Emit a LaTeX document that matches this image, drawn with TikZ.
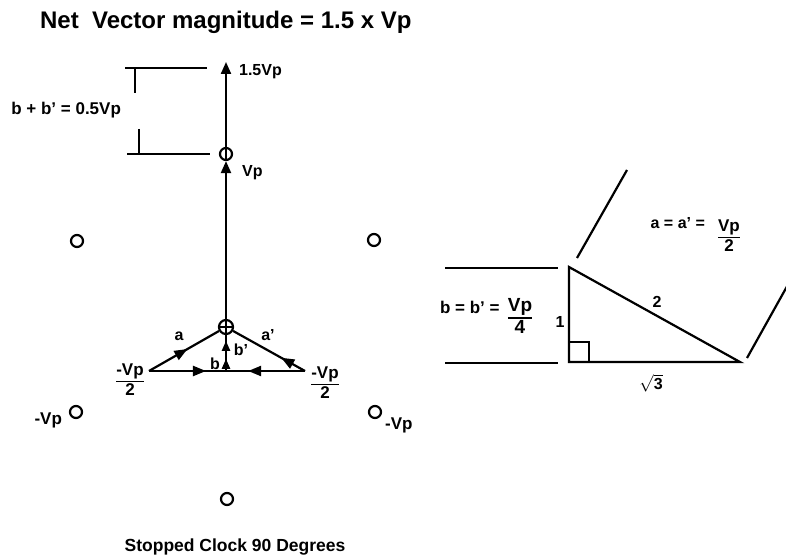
\documentclass[tikz,border=0pt]{standalone}
\usepackage{amsmath}
\usepackage{fontspec}
\setmainfont{Liberation Sans}
\usetikzlibrary{arrows.meta, positioning, decorations.markings}

\newcommand{\vpfrac}[2]{$\genfrac{}{}{1.6pt}{1}{\mbox{#1}}{\mbox{#2}}$}

\begin{document}
\begin{tikzpicture}[
  x=1pt, y=-1pt,
  line width=2.2pt,
  lbl/.style={font=\fontsize{16}{18}\selectfont\bfseries, inner sep=1pt},
  big/.style={lbl, font=\fontsize{17}{19}\selectfont\bfseries},
  dot/.style={circle, draw, line width=2.2pt, minimum size=12pt, inner sep=0pt},
  arr/.style={-{Triangle[length=12pt,width=10pt]}},
  midarr/.style={postaction={decorate, decoration={markings,
      mark=at position #1 with {\arrow{Triangle[length=13pt,width=10pt]}}}}},
  smallarr/.style={postaction={decorate, decoration={markings,
      mark=at position #1 with {\arrow{Triangle[length=10pt,width=8pt]}}}}},
]
  \useasboundingbox (0,0) rectangle (786,556);

  \node[lbl, font=\fontsize{24}{28}\selectfont\bfseries, anchor=base west] (title) at (38,29)
    {Net\ \ Vector magnitude = 1.5 x Vp};

  % phasor star
  \node[dot, minimum size=14pt] (O) at (226,327) {};
  \node[dot] (vp) at (226,154) {};
  \coordinate (top) at (226,62);
  \coordinate (L) at (149,371);
  \coordinate (R) at (305,371);
  \coordinate (M) at (226,371);

  \draw[arr] (O) -- (vp);
  \draw[arr] (vp) -- (top);
  \draw (vp.north) -- (vp.south);
  \draw (O.north) -- (O.south) (O.west) -- (O.east);
  \draw[midarr=0.55] (L) -- (O);
  \draw[midarr=0.33] (R) -- (O);
  \draw[midarr=0.74] (L) -- (M);
  \draw[midarr=0.72] (R) -- (M);
  \draw[smallarr=0.34, smallarr=0.84] (M) -- (O);

  \node[lbl] (la) at (179,336) {a};
  \node[lbl] (lad) at (268,335) {a’};
  \node[lbl] (lbd) at (241,350) {b’};
  \node[lbl] (lb) at (215,364) {b};
  \node[big] (fl) at (130,380) {\vpfrac{-Vp}{2}};
  \node[big] (fr) at (325,383) {\vpfrac{-Vp}{2}};

  \node[lbl, anchor=west] (l15) at (237,72) {1.5Vp};
  \node[lbl, anchor=west] (lvp) at (240,173) {Vp};

  % bracket
  \draw (125,68) -- (207,68) (135,68) -- (135,93);
  \draw (127,154) -- (210,154) (139,129) -- (139,154);
  \node[big, anchor=east] (bsum) at (123,110) {b + b’ = 0.5Vp};

  % clock positions
  \node[dot] (d1) at (77,241) {};
  \node[dot] (d2) at (374,240) {};
  \node[dot] (d3) at (76,412) {};
  \node[dot] (d4) at (375,412) {};
  \node[dot] (d5) at (227,499) {};
  \node[big, anchor=east] (n3) at (64,420) {-Vp};
  \node[big, anchor=west] (n4) at (383,425) {-Vp};

  % right triangle
  \coordinate (C) at (569,362);
  \coordinate (T) at (569,267);
  \coordinate (Rv) at (740,362);
  \draw (T) -- (C) -- (Rv) -- cycle;
  \draw ([yshift=20pt]C) -| ([xshift=20pt]C);
  \draw (445,268) -- (558,268) (445,363) -- (558,363);
  \draw (577,258) -- (627,170) (747,358) -- (790,281);
  \node[lbl, anchor=east] (ra) at (707,223) {a = a’ =};
  \node[big] (rfa) at (729,236) {\vpfrac{Vp}{2}};
  \node[big, anchor=west] (rb) at (438,307) {b = b’ =};
  \node[big, font=\fontsize{19}{21}\selectfont\bfseries] (rfb) at (520,316) {\vpfrac{Vp}{4}};
  \node[lbl] (s1) at (560,322) {1};
  \node[lbl] (s2) at (657,302) {2};
  \node[lbl] (s3) at (651,383) {$\sqrt{\mbox{3}}$};

  \node[lbl, font=\fontsize{17.5}{20}\selectfont\bfseries] (cap) at (235,547)
    {Stopped Clock 90 Degrees};
\end{tikzpicture}
\end{document}
